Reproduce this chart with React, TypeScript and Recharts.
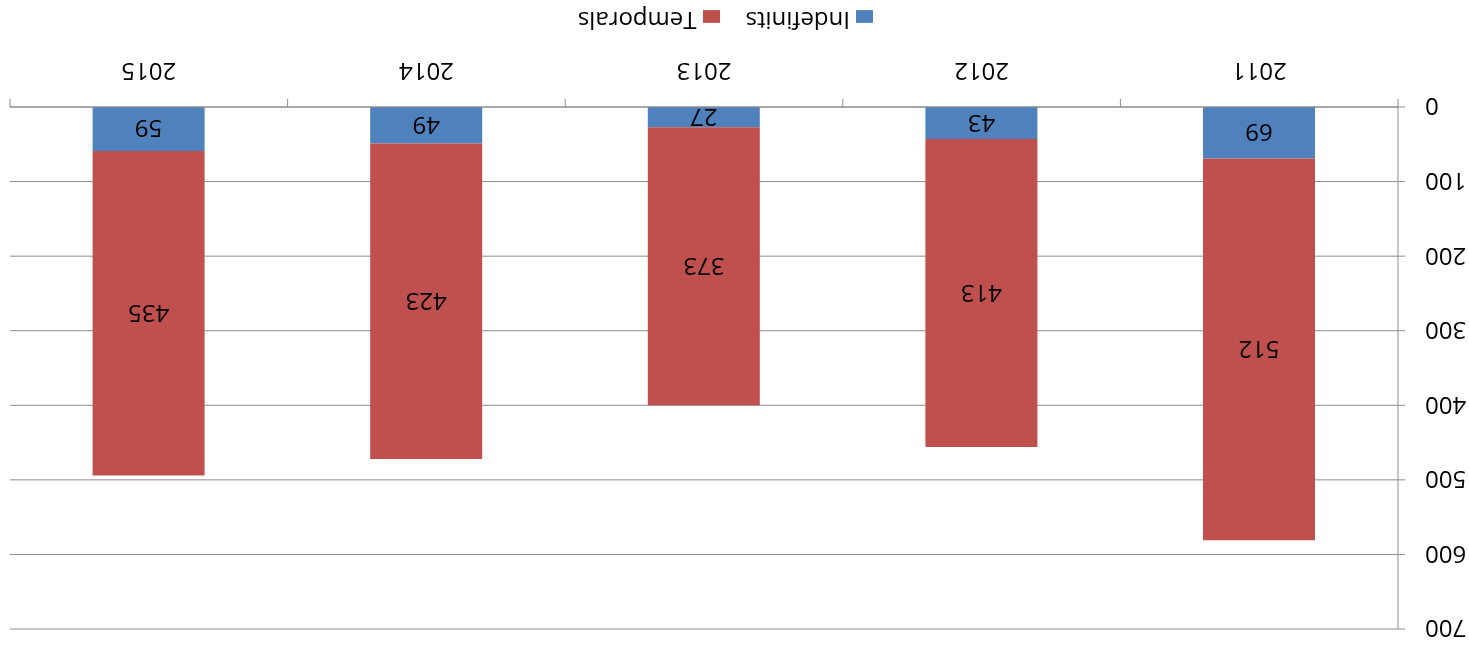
import { BarChart, Bar, XAxis, YAxis, CartesianGrid, Legend, LabelList } from "recharts";

const years = ["2011", "2012", "2013", "2014", "2015"];
const indefinits = [69, 43, 27, 49, 59];
const temporals = [512, 413, 373, 423, 435];
const yTicks = [0, 100, 200, 300, 400, 500, 600, 700];

const data = years.map((year, i) => ({
  year,
  Indefinits: indefinits[i],
  Temporals: temporals[i],
}));

const GRID = "#8c8c8c";
const TICK_GAP = 27; // tickSize + tickMargin on the category axis

// year label + boundary tick marks between the category bands
function YearTick(props: any) {
  const { x, y, payload, index, visibleTicksCount } = props;
  const half = payload.offset || 0;
  const axisY = y - TICK_GAP;
  const isLast = index === visibleTicksCount - 1;
  return (
    <g>
      <line x1={x - half} x2={x - half} y1={axisY} y2={axisY + 8} stroke={GRID} />
      {isLast && <line x1={x + half} x2={x + half} y1={axisY} y2={axisY + 8} stroke={GRID} />}
      <text x={x} y={y} dy="0.71em" textAnchor="middle" fill="#000" fontSize={24}>
        {payload.value}
      </text>
    </g>
  );
}

export default function App() {
  return (
    <div
      style={{
        position: "fixed",
        left: 0,
        top: 0,
        width: 1469,
        height: 650,
        background: "#fff",
        fontFamily: "'Open Sans', sans-serif",
        transform: "rotate(180deg)",
      }}
    >
      <BarChart
        width={1469}
        height={650}
        data={data}
        margin={{ top: 21, right: 10, left: 0, bottom: 0 }}
        barSize={112}
      >
        <CartesianGrid stroke={GRID} vertical={false} />

        <XAxis
          dataKey="year"
          height={107}
          tickLine={false}
          tickSize={7}
          tickMargin={20}
          axisLine={{ stroke: GRID }}
          tick={<YearTick />}
        />

        <YAxis
          domain={[0, 700]}
          ticks={yTicks}
          width={71}
          tickSize={7}
          tickMargin={20}
          axisLine={{ stroke: GRID }}
          tickLine={{ stroke: GRID }}
          tick={{ fill: "#000", fontSize: 24 }}
        />

        <Legend
          verticalAlign="middle"
          align="center"
          layout="horizontal"
          iconSize={17}
          wrapperStyle={{ top: 612, left: 596, width: "auto" }}
          formatter={(value) => (
            <span style={{ color: "#000", fontSize: 24, marginLeft: 2, marginRight: 16 }}>{value}</span>
          )}
        />

        <Bar dataKey="Indefinits" stackId="a" fill="#4F81BD" isAnimationActive={false}>
          <LabelList dataKey="Indefinits" position="center" fill="#000" fontSize={24} />
        </Bar>
        <Bar dataKey="Temporals" stackId="a" fill="#C0504D" isAnimationActive={false}>
          <LabelList dataKey="Temporals" position="center" fill="#000" fontSize={24} />
        </Bar>
      </BarChart>
    </div>
  );
}
